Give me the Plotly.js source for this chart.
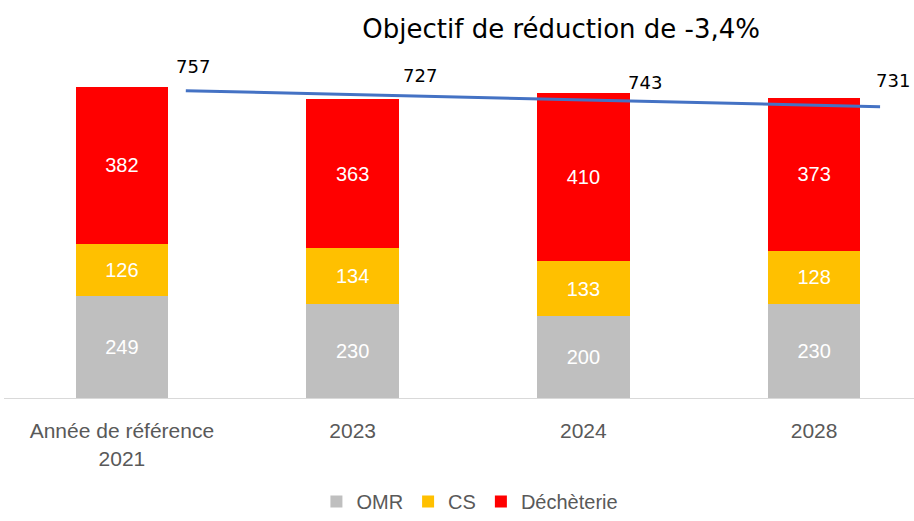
<!DOCTYPE html>
<html><head><meta charset="utf-8">
<script src="https://cdn.plot.ly/plotly-3.0.1.min.js"></script>
<style>html,body{margin:0;padding:0;background:#fff}#c{width:914px;height:521px}</style>
</head><body><div id="c"></div>
<script>
const categories = ["Année de référence<br>2021", "2023", "2024", "2028"];
const omr = [249, 230, 200, 230];
const cs = [126, 134, 133, 128];
const decheterie = [382, 363, 410, 373];
const totals = [757, 727, 743, 731];
const objectiveX = [0.277, 3.286];
const objectiveY = [748, 709];

const idx = categories.map((_, i) => i);
const base = {type: 'bar', x: idx, width: 0.4, textposition: 'inside', insidetextanchor: 'middle',
  texttemplate: '%{y}', textfont: {family: 'Liberation Sans, Arial', size: 20, color: '#ffffff'},
  hoverinfo: 'skip'};
const traces = [
  Object.assign({}, base, {name: 'OMR', y: omr, marker: {color: '#BFBFBF'}}),
  Object.assign({}, base, {name: 'CS', y: cs, marker: {color: '#FFC000'}}),
  Object.assign({}, base, {name: 'Déchèterie', y: decheterie, marker: {color: '#FF0000'}}),
  {type: 'scatter', mode: 'lines', x: objectiveX, y: objectiveY, showlegend: false,
   line: {color: '#4472C4', width: 3}, hoverinfo: 'skip'}
];

const labelDX = [0.308, 0.292, 0.267, 0.342];
const labelDY = [51, 59, 26, 43];
const annotations = totals.map((t, i) => ({
  x: i + labelDX[i], y: t + labelDY[i], xref: 'x', yref: 'y', text: String(t), showarrow: false,
  font: {family: 'DejaVu Sans', size: 18, color: '#000000'}
}));

const layout = {
  width: 914, height: 521,
  margin: {l: 4, r: 0, t: 60, b: 123, autoexpand: false},
  paper_bgcolor: '#ffffff', plot_bgcolor: '#ffffff',
  barmode: 'stack',
  showlegend: true,
  title: {text: 'Objectif de réduction de -3,4%', x: 0.614, xanchor: 'center', y: 0.945, yanchor: 'middle',
    font: {family: 'DejaVu Sans', size: 26, color: '#000000'}},
  xaxis: {type: 'linear', range: [-0.511, 3.433], tickvals: idx, ticktext: categories,
    showgrid: false, zeroline: false, showline: true, linecolor: '#D9D9D9', linewidth: 1,
    ticks: '', ticklabelstandoff: 14, automargin: false,
    tickfont: {family: 'Liberation Sans, Arial', size: 21, color: '#595959'}},
  yaxis: {range: [0, 822.8], visible: false, showgrid: false, zeroline: false, automargin: false},
  legend: {orientation: 'h', x: 0.512, xanchor: 'center', y: -0.364, yanchor: 'bottom',
    font: {family: 'Liberation Sans, Arial', size: 20, color: '#595959'},
    traceorder: 'normal'},
  annotations: annotations
};
Plotly.newPlot('c', traces, layout, {displayModeBar: false, staticPlot: true});
</script></body></html>
